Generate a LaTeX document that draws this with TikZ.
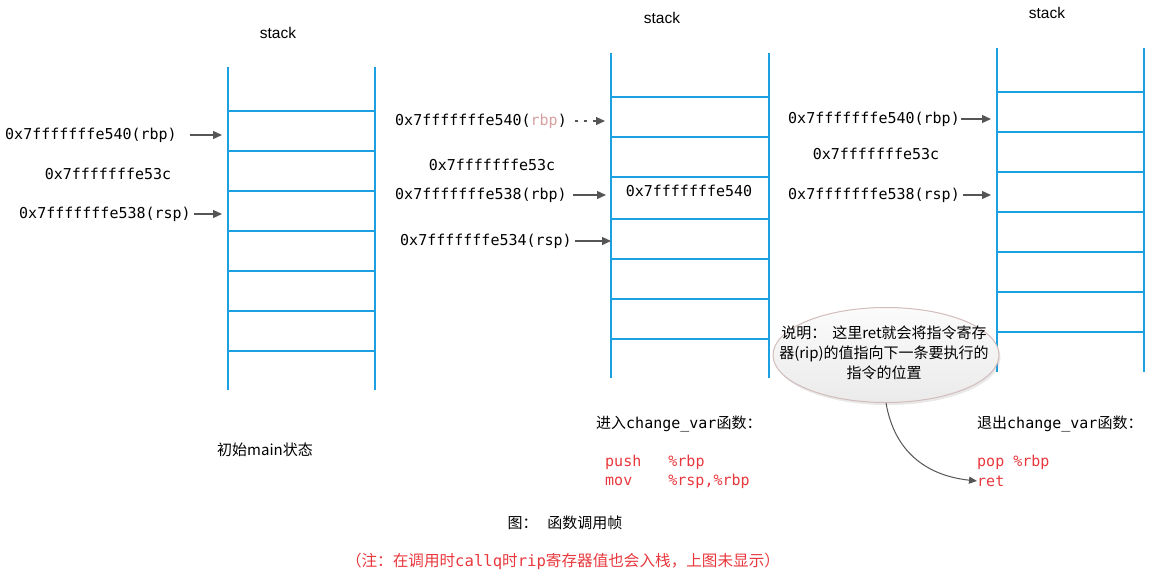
\documentclass[tikz,border=0pt]{standalone}
\usepackage{fontspec}
\setmainfont{Liberation Sans}
\newfontfamily\cjk{Noto Sans CJK SC}
\newfontfamily\mono{DejaVu Sans Mono}
\usetikzlibrary{arrows.meta,shapes.geometric,shadows}
\definecolor{stackblue}{RGB}{27,161,226}
\definecolor{arrgray}{RGB}{85,85,85}
\definecolor{codered}{RGB}{232,56,61}
\definecolor{pinkc}{RGB}{215,160,160}
\definecolor{bubbleedge}{RGB}{210,188,188}
\tikzset{
  stackline/.style={stackblue, line width=2.3pt},
  ptr/.style={arrgray, line width=1.3pt, -{Triangle[length=9pt,width=8pt]}},
  dptr/.style={ptr, dash pattern=on 3pt off 6pt},
  addr/.style={font=\mono\fontsize{15}{18}\selectfont, inner sep=0pt},
  lbl/.style={font=\cjk\fontsize{15}{20}\selectfont, inner sep=0pt},
  stacktitle/.style={font=\fontsize{15.5}{18}\selectfont, inner sep=0pt},
  code/.style={addr, text=codered, align=left},
  bubble/.style={ellipse, draw=bubbleedge, line width=1pt, shading=axis, top color=gray!3, bottom color=gray!16,
    minimum width=226pt, minimum height=95pt, inner sep=0pt, drop shadow={opacity=0.18, shadow xshift=1.5pt, shadow yshift=-2.5pt}},
}
\begin{document}
\begin{tikzpicture}[x=1pt,y=-1pt]
\useasboundingbox (0,0) rectangle (1158,581);

% ---------- stack 1 ----------
\node[stacktitle] (t1) at (278,33) {stack};
\draw[stackline] (228,67) -- (228,390) (375,67) -- (375,390);
\foreach \y in {111,151,191,231,271,311,351} \draw[stackline] (228,\y) -- (375,\y);
\coordinate (h1a) at (222,135);
\coordinate (h1b) at (222,214);
\node[addr, anchor=west] (a1) at (5,135) {0x7fffffffe540(rbp)};
\node[addr] (a2) at (108,174) {0x7fffffffe53c};
\node[addr, anchor=west] (a3) at (19,214) {0x7fffffffe538(rsp)};
\draw[ptr] ([xshift=13pt]a1.east) -- (h1a);
\draw[ptr] ([xshift=3pt]a3.east) -- (h1b);
\node[lbl] (m1) at (265,450) {初始main状态};

% ---------- stack 2 ----------
\node[stacktitle] (t2) at (662,18) {stack};
\draw[stackline] (611,53) -- (611,378) (769,53) -- (769,378);
\foreach \y in {97,137,177,219,259,299,339} \draw[stackline] (611,\y) -- (769,\y);
\coordinate (h2a) at (605,121);
\coordinate (h2b) at (606,195);
\coordinate (h2c) at (611,241);
\node[addr, anchor=west] (b1) at (395,121) {0x7fffffffe540(\textcolor{pinkc}{rbp})};
\node[addr] (b2) at (492,165) {0x7fffffffe53c};
\node[addr, anchor=west] (b3) at (395,195) {0x7fffffffe538(rbp)};
\node[addr, anchor=west] (b4) at (400,241) {0x7fffffffe534(rsp)};
\node[addr] (b5) at (689,191) {0x7fffffffe540};
\draw[dptr] ([xshift=8pt]b1.east) -- (h2a);
\draw[ptr] ([xshift=6pt]b3.east) -- (h2b);
\draw[ptr] ([xshift=3pt]b4.east) -- (h2c);
\node[lbl, anchor=west] (e2) at (596,424) {进入{\mono change\_var}函数：};
\node[code, anchor=west] (c2) at (605,471.5) {push\hspace{27.1pt}\%rbp\\[1pt]mov\hspace{36.1pt}\%rsp,\%rbp};

% ---------- stack 3 ----------
\node[stacktitle] (t3) at (1047,13) {stack};
\draw[stackline] (997,48) -- (997,372) (1144,48) -- (1144,372);
\foreach \y in {92,132,172,212,252,292,332} \draw[stackline] (997,\y) -- (1144,\y);
\coordinate (h3a) at (991,119);
\coordinate (h3b) at (991,195);
\node[addr, anchor=west] (d1) at (788,119) {0x7fffffffe540(rbp)};
\node[addr] (d2) at (876,154) {0x7fffffffe53c};
\node[addr, anchor=west] (d3) at (788,195) {0x7fffffffe538(rsp)};
\draw[ptr] ([xshift=1pt]d1.east) -- (h3a);
\draw[ptr] ([xshift=3pt]d3.east) -- (h3b);
\node[lbl, anchor=west] (e3) at (977,424) {退出{\mono change\_var}函数：};
\node[addr, text=codered, anchor=west] (pop) at (977,462) {pop \%rbp};
\node[addr, text=codered, anchor=west] (ret) at (977,481) {ret};

% ---------- note bubble ----------
\node[bubble] (note) at (886,355) {};
\node[lbl, align=center] (notetext) at (884,353) {说明：\hspace{6pt}这里ret就会将指令寄存\\器(rip)的值指向下一条要执行的\\指令的位置};
\draw[arrgray, line width=1pt, -{Triangle[length=8pt,width=7pt]}] (note.south) .. controls (895,455) and (930,476) .. (ret.west);

% ---------- captions ----------
\node[lbl] (cap) at (565,523) {图：\hspace{10pt}函数调用帧};
\node[lbl, text=codered, font=\cjk\fontsize{15.6}{20}\selectfont] (remark) at (563,561) {（注：在调用时{\mono callq}时{\mono rip}寄存器值也会入栈，上图未显示）};
\end{tikzpicture}
\end{document}
